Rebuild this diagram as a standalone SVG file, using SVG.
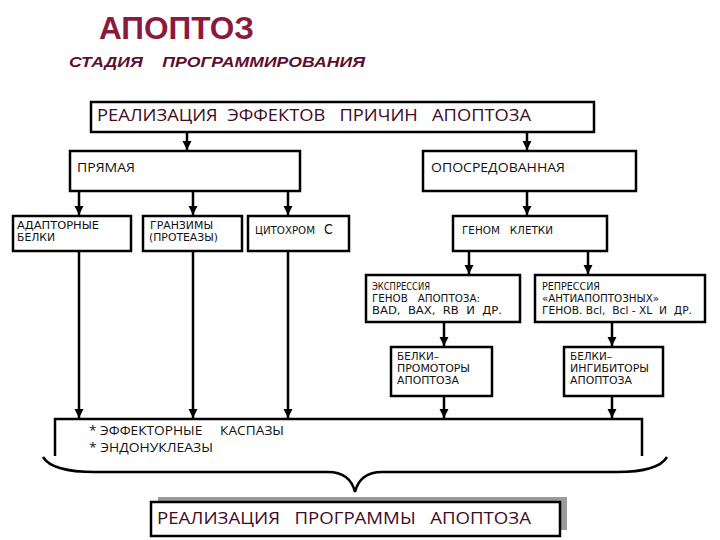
<svg xmlns="http://www.w3.org/2000/svg" width="720" height="540" viewBox="0 0 720 540" xml:space="preserve">
<style>
  text { white-space: pre; }
  .box { fill: #ffffff; stroke: #000000; stroke-width: 2.5; }
  .ln { fill: none; stroke: #000000; stroke-width: 2.5; }
  .arr { fill: none; stroke: #000000; stroke-width: 2.5; marker-end: url(#ah); }
  .big { font-family: "Open Sans", "Noto Sans", "Liberation Sans", sans-serif; font-size: 17px; fill: #3f0a24; }
  .sm { font-family: "DejaVu Sans Condensed", "Liberation Sans", sans-serif; font-size: 10px; fill: #111111; }
  .md { font-family: "Open Sans", "Noto Sans", "Liberation Sans", sans-serif; font-size: 12px; fill: #111111; }
</style>
<defs>
  <marker id="ah" markerUnits="userSpaceOnUse" markerWidth="10" markerHeight="10" refX="9" refY="4.5" orient="auto">
    <path d="M0,0 L9,4.5 L0,9 Z" fill="#000000"/>
  </marker>
</defs>
<rect width="720" height="540" fill="#ffffff"/>

<g id="title">
  <text x="99" y="39" font-family="Liberation Sans, Arial, sans-serif" font-weight="bold" font-size="31" fill="#8c1a3e" textLength="155" lengthAdjust="spacingAndGlyphs">АПОПТОЗ</text>
  <text x="69" y="67" font-family="Liberation Sans, Arial, sans-serif" font-weight="bold" font-style="italic" font-size="15" fill="#5e0f2e" textLength="296" lengthAdjust="spacingAndGlyphs">СТАДИЯ    ПРОГРАММИРОВАНИЯ</text>
</g>

<g id="connectors">
  <line class="arr" x1="187" y1="133" x2="187" y2="150"/>
  <line class="arr" x1="527" y1="133" x2="527" y2="150"/>
  <line class="arr" x1="79" y1="192" x2="79" y2="215"/>
  <line class="arr" x1="193" y1="192" x2="193" y2="215"/>
  <line class="arr" x1="288" y1="192" x2="288" y2="215"/>
  <line class="arr" x1="527" y1="192" x2="527" y2="215"/>
  <line class="arr" x1="469" y1="251" x2="469" y2="274"/>
  <line class="arr" x1="588" y1="251" x2="588" y2="274"/>
  <line class="arr" x1="444" y1="323" x2="444" y2="346"/>
  <line class="arr" x1="612" y1="323" x2="612" y2="346"/>
  <line class="arr" x1="79" y1="251" x2="79" y2="418"/>
  <line class="arr" x1="193" y1="251" x2="193" y2="418"/>
  <line class="arr" x1="288" y1="251" x2="288" y2="418"/>
  <line class="arr" x1="444" y1="396" x2="444" y2="418"/>
  <line class="arr" x1="612" y1="396" x2="612" y2="418"/>
</g>

<g id="n-cause">
  <rect class="box" x="91" y="102" width="503" height="30"/>
  <text class="big" x="97" y="121" textLength="434" lengthAdjust="spacingAndGlyphs">РЕАЛИЗАЦИЯ  ЭФФЕКТОВ   ПРИЧИН   АПОПТОЗА</text>
</g>

<g id="n-direct">
  <rect class="box" x="70" y="151" width="230" height="40"/>
  <text class="md" x="77" y="172" textLength="58" lengthAdjust="spacingAndGlyphs">ПРЯМАЯ</text>
</g>

<g id="n-mediated">
  <rect class="box" x="423" y="151" width="213" height="40"/>
  <text class="md" x="431" y="172" textLength="134" lengthAdjust="spacingAndGlyphs">ОПОСРЕДОВАННАЯ</text>
</g>

<g id="n-adaptor">
  <rect class="box" x="13" y="216" width="118" height="35"/>
  <text class="sm" x="17" y="229" textLength="82" lengthAdjust="spacingAndGlyphs">АДАПТОРНЫЕ</text>
  <text class="sm" x="17" y="241" textLength="38" lengthAdjust="spacingAndGlyphs">БЕЛКИ</text>
</g>

<g id="n-granzyme">
  <rect class="box" x="143" y="216" width="99" height="35"/>
  <text class="sm" x="150" y="229" textLength="63" lengthAdjust="spacingAndGlyphs">ГРАНЗИМЫ</text>
  <text class="sm" x="149" y="241" textLength="69" lengthAdjust="spacingAndGlyphs">(ПРОТЕАЗЫ)</text>
</g>

<g id="n-cytochrome">
  <rect class="box" x="248" y="216" width="101" height="35"/>
  <text class="sm" x="255" y="234" font-size="11"><tspan textLength="60" lengthAdjust="spacingAndGlyphs">ЦИТОХРОМ</tspan><tspan x="324" font-size="14">С</tspan></text>
</g>

<g id="n-genome">
  <rect class="box" x="453" y="216" width="154" height="35"/>
  <text class="sm" x="462" y="234" font-size="11" textLength="91" lengthAdjust="spacingAndGlyphs">ГЕНОМ   КЛЕТКИ</text>
</g>

<g id="n-expression">
  <rect class="box" x="366" y="275" width="154" height="47"/>
  <text class="sm" x="372" y="290" textLength="58" lengthAdjust="spacingAndGlyphs">ЭКСПРЕССИЯ</text>
  <text class="sm" x="372" y="302" textLength="108" lengthAdjust="spacingAndGlyphs">ГЕНОВ   АПОПТОЗА:</text>
  <text class="sm" x="372" y="314" textLength="130" lengthAdjust="spacingAndGlyphs">BAD,  BAX,  RB  И  ДР.</text>
</g>

<g id="n-repression">
  <rect class="box" x="535" y="275" width="170" height="47"/>
  <text class="sm" x="542" y="290" textLength="58" lengthAdjust="spacingAndGlyphs">РЕПРЕССИЯ</text>
  <text class="sm" x="542" y="302" textLength="117" lengthAdjust="spacingAndGlyphs">«АНТИАПОПТОЗНЫХ»</text>
  <text class="sm" x="542" y="314" textLength="150" lengthAdjust="spacingAndGlyphs">ГЕНОВ. Bcl,  Bcl - XL  И  ДР.</text>
</g>

<g id="n-promoters">
  <rect class="box" x="391" y="347" width="101" height="49"/>
  <text class="sm" x="397" y="360" textLength="42" lengthAdjust="spacingAndGlyphs">БЕЛКИ–</text>
  <text class="sm" x="397" y="372" textLength="73" lengthAdjust="spacingAndGlyphs">ПРОМОТОРЫ</text>
  <text class="sm" x="397" y="384" textLength="62" lengthAdjust="spacingAndGlyphs">АПОПТОЗА</text>
</g>

<g id="n-inhibitors">
  <rect class="box" x="564" y="347" width="99" height="49"/>
  <text class="sm" x="570" y="360" textLength="42" lengthAdjust="spacingAndGlyphs">БЕЛКИ–</text>
  <text class="sm" x="570" y="372" textLength="79" lengthAdjust="spacingAndGlyphs">ИНГИБИТОРЫ</text>
  <text class="sm" x="570" y="384" textLength="62" lengthAdjust="spacingAndGlyphs">АПОПТОЗА</text>
</g>

<g id="n-effectors">
  <path class="ln" d="M55,456 V419 H642 V456"/>
  <text class="md" x="89" y="435" font-size="13" textLength="195" lengthAdjust="spacingAndGlyphs">* ЭФФЕКТОРНЫЕ     КАСПАЗЫ</text>
  <text class="md" x="89" y="452" font-size="13" textLength="124" lengthAdjust="spacingAndGlyphs">* ЭНДОНУКЛЕАЗЫ</text>
</g>

<g id="brace">
  <path class="ln" d="M43,457 Q52,472 95,472 H328 Q350,472 355,492 Q360,472 382,472 H617 Q658,472 667,457"/>
</g>

<g id="n-program">
  <rect x="158" y="497" width="409" height="33" fill="#9a9a9a"/>
  <rect class="box" x="151" y="502" width="409" height="34"/>
  <text class="big" x="157" y="524" font-size="18" textLength="374" lengthAdjust="spacingAndGlyphs">РЕАЛИЗАЦИЯ   ПРОГРАММЫ   АПОПТОЗА</text>
</g>
</svg>
